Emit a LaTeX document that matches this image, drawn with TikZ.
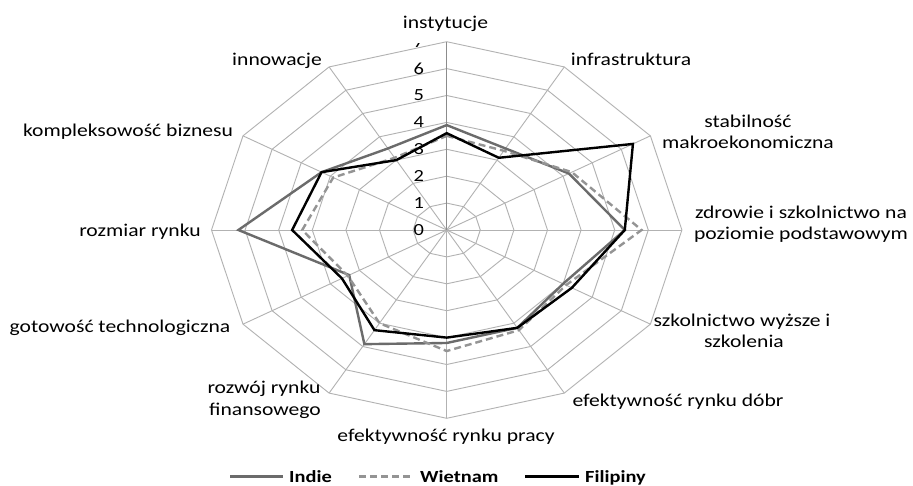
\documentclass[tikz,border=0pt]{standalone}
\usepackage{fontspec}
\setmainfont{Carlito}
\newcommand\hstr[1]{\scalebox{1.2}[1]{#1}}
\begin{document}
\begin{tikzpicture}[x=1pt,y=-1pt,
 grid/.style={draw=black!30, line width=0.9pt},
 axisv/.style={draw=black!45, line width=1.3pt},
 lab/.style={font=\fontsize{18}{21}\selectfont, anchor=base, inner sep=0pt},
 tick/.style={font=\fontsize{17}{20}\selectfont, inner sep=0pt},
 indie/.style={draw=black!58, line width=2.4pt},
 wiet/.style={draw=black!42, line width=2.4pt, dash pattern=on 7pt off 4pt},
 fili/.style={draw=black, line width=2.4pt},
 leg/.style={font=\bfseries\fontsize{17}{20}\selectfont, anchor=base west, inner sep=0pt}]
\useasboundingbox (0,0) rectangle (913,485);
\fill[white] (0,0) rectangle (913,485);

\begin{scope}[shift={(446.7,230)}, x=33.6pt, y=26.9pt]
  \coordinate (c) at (0,0);
  % grid rings
  \foreach \r in {1,...,7}
    \draw[grid] (90:\r) \foreach \a in {120,150,...,420} {-- (\a:\r)} -- cycle;
  % spokes
  \foreach \a in {0,30,...,330}
    \draw[grid] (c) -- (\a:7);
  \draw[axisv] (c) -- (90:7);
  % tick labels
  \foreach \k in {0,...,6}
    \node[tick] (t\k) at (-0.83,\k) {\hstr{\k}};
  \begin{scope}
    \clip (-1.2,6.6) rectangle (-0.5,6.95);
    \node[tick] (t7) at (-0.83,7) {\hstr{7}};
  \end{scope}
  % data
  \draw[indie] (90:3.9) -- (60:3.5) -- (30:4.2) -- (0:5.3) -- (-30:4.0) -- (-60:4.2)
     -- (-90:4.2) -- (-120:4.9) -- (-150:3.35) -- (180:6.2) -- (150:4.3) -- (120:3.5) -- cycle;
  \draw[wiet] (90:3.5) -- (60:3.4) -- (30:4.3) -- (0:5.8) -- (-30:4.1) -- (-60:4.3)
     -- (-90:4.5) -- (-120:4.0) -- (-150:3.4) -- (180:4.3) -- (150:3.9) -- (120:3.1) -- cycle;
  \draw[fili] (90:3.6) -- (60:3.1) -- (30:6.4) -- (0:5.3) -- (-30:4.3) -- (-60:4.2)
     -- (-90:4.0) -- (-120:4.3) -- (-150:3.6) -- (180:4.6) -- (150:4.3) -- (120:3.0) -- cycle;
\end{scope}

% category labels
\node[lab] (l1) at (445.5,28) {\hstr{instytucje}};
\node[lab] (l2) at (631,65) {\hstr{infrastruktura}};
\node[lab] (l3a) at (748,127) {\hstr{stabilność}};
\node[lab] (l3b) at (748,148) {\hstr{makroekonomiczna}};
\node[lab] (l4a) at (801,218) {\hstr{zdrowie i szkolnictwo na}};
\node[lab] (l4b) at (801,239) {\hstr{poziomie podstawowym}};
\node[lab] (l5a) at (742,326) {\hstr{szkolnictwo wyższe i}};
\node[lab] (l5b) at (744,347) {\hstr{szkolenia}};
\node[lab] (l6) at (678,406) {\hstr{efektywność rynku dóbr}};
\node[lab] (l7) at (446,441) {\hstr{efektywność rynku pracy}};
\node[lab] (l8a) at (264,393) {\hstr{rozwój rynku}};
\node[lab] (l8b) at (265,415) {\hstr{finansowego}};
\node[lab] (l9) at (120,332) {\hstr{gotowość technologiczna}};
\node[lab] (l10) at (140,236) {\hstr{rozmiar rynku}};
\node[lab] (l11) at (128,136) {\hstr{kompleksowość biznesu}};
\node[lab] (l12) at (277,65) {\hstr{innowacje}};

% legend
\coordinate (g1a) at (230,476.5); \coordinate (g1b) at (283,476.5);
\coordinate (g2a) at (359,476.5); \coordinate (g2b) at (413,476.5);
\coordinate (g3a) at (525,476.5); \coordinate (g3b) at (579,476.5);
\draw[indie] (g1a) -- (g1b);
\draw[wiet] (g2a) -- (g2b);
\draw[fili] (g3a) -- (g3b);
\node[leg] (n1) at (289,482) {\hstr{Indie}};
\node[leg] (n2) at (420,482) {\hstr{Wietnam}};
\node[leg] (n3) at (585,482) {\hstr{Filipiny}};
\end{tikzpicture}
\end{document}
